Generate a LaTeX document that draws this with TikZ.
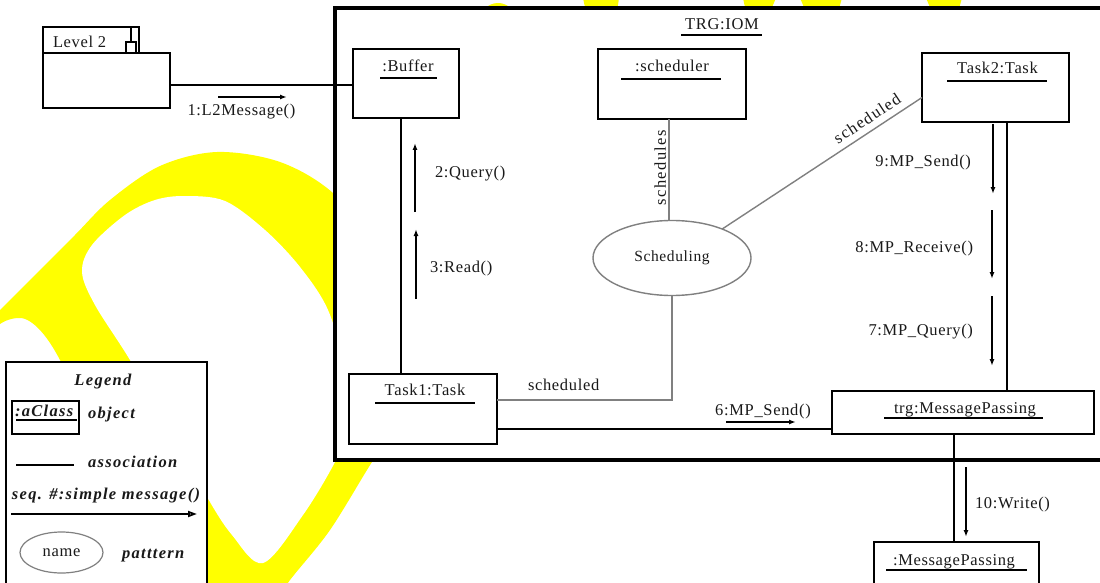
\documentclass[tikz,border=0pt]{standalone}
\usepackage{fontspec}
\setmainfont{Liberation Serif}[LetterSpace=4]
\newfontfamily\widefont{Liberation Serif}[LetterSpace=8]
\newfontfamily\legfont{Liberation Serif}[LetterSpace=8]
\usetikzlibrary{arrows.meta,shapes.geometric,calc}
\definecolor{wmyellow}{RGB}{255,255,0}
\definecolor{linkgray}{RGB}{128,128,128}
\definecolor{inkc}{RGB}{25,25,25}
\tikzset{
 box/.style={draw=black, fill=white, line width=2.3pt, inner sep=0pt, outer sep=0pt, anchor=north west},
 lbl/.style={font=\fontsize{16.5}{19}\selectfont, text=inkc, inner sep=0pt, outer sep=0pt},
 widelbl/.style={font=\widefont\fontsize{16.5}{19}\selectfont, text=inkc, inner sep=0pt, outer sep=0pt},
 legl/.style={font=\legfont\bfseries\itshape\fontsize{16.5}{19}\selectfont, text=inkc, inner sep=0pt, outer sep=0pt, anchor=base west},
 assoc/.style={draw=black, line width=2pt},
 grayln/.style={draw=linkgray, line width=1.4pt},
 msg/.style={draw=black, line width=1.8pt, -{Latex[length=7pt,width=5pt]}},
 uline/.style={draw=black, line width=1.8pt},
}
\begin{document}
\begin{tikzpicture}[x=1pt,y=-1pt]
\useasboundingbox (0,0) rectangle (1100,583);
\clip (0,0) rectangle (1100,583);
\fill[white] (0,0) rectangle (1100,583);
% watermark
\fill[wmyellow] (0,310) -- plot[smooth, tension=0.55] coordinates {
 (0,310) (35,275) (75,235) (110,200) (160,166) (217,152) (280,162) (333,193)
 (380,250) (405,340) (395,430) (372,462) (330,530) (290,580) (265,615) (205,615)
 (186,570) (138,490) (90,410) (60,360)}
 .. controls (46,333) and (30,316) .. (17,318) .. controls (8,319) and (3,322) .. (0,324)
 -- (-5,324) -- (-5,310) -- cycle;
\fill[white] plot[smooth cycle, tension=0.55] coordinates {
 (185,196) (225,201) (265,230) (300,267) (328,310) (345,370) (347,430) (335,462)
 (303,515) (263,563) (232,535) (207,497) (170,430) (130,360) (95,305) (82,272)
 (92,245) (125,215) (155,200)};
\fill[wmyellow] (498,21) circle (18);
\fill[wmyellow] (583,-2) -- (619,-2) -- (617,12) -- (586,12) -- cycle;
\fill[wmyellow] (743,-2) -- (776,-2) -- (770,12) -- (746,12) -- cycle;
\fill[wmyellow] (800,-2) -- (842,-2) -- (838,12) -- (806,12) -- cycle;
\fill[wmyellow] (926,-2) -- (962,-2) -- (958,12) -- (932,12) -- cycle;

% frames
\node[box, line width=3.2pt, minimum width=780pt, minimum height=452pt] (iom) at (335,8) {};
\node[lbl, anchor=base] (iomtxt) at (722,30) {TRG:IOM};
\draw[uline] (681,35) -- (762,35);
\node[box, minimum width=201pt, minimum height=240pt] (legend) at (6,362) {};

% Level 2 package
\node[box, minimum width=96pt, minimum height=26pt] (l2tab) at (43,27) {};
\node[box, minimum width=127pt, minimum height=55pt] (l2body) at (43,53) {};
\draw[line width=2pt] (131,27) -- (131,42);
\draw[line width=2pt] (126,53) rectangle (136,42);
\node[lbl, anchor=base west] (l2txt) at (53,48) {Level 2};

% objects
\node[box, minimum width=106pt, minimum height=69pt] (buffer) at (353,49) {};
\node[lbl, anchor=base] (buftxt) at (408,72) {:Buffer};
\draw[uline] (380,78) -- (437,78);

\node[box, minimum width=148pt, minimum height=70pt] (sched) at (598,49) {};
\node[lbl, anchor=base] (schedtxt) at (672,72) {:scheduler};
\draw[uline] (621,79) -- (721,79);

\node[box, minimum width=147pt, minimum height=69pt] (task2) at (922,53) {};
\node[lbl, anchor=base] (task2txt) at (997.5,74) {Task2:Task};
\draw[uline] (947,81) -- (1047,81);

\node[box, minimum width=148pt, minimum height=70pt] (task1) at (349,374) {};
\node[lbl, anchor=base] (task1txt) at (425,395) {Task1:Task};
\draw[uline] (375,403) -- (475,403);

\node[box, minimum width=262pt, minimum height=43pt] (trgmp) at (832,391) {};
\node[lbl, anchor=base] (trgmptxt) at (965,413) {trg:MessagePassing};
\draw[uline] (884,418) -- (1043,418);

\node[box, minimum width=165pt, minimum height=60pt] (ms) at (874,542) {};
\node[lbl, anchor=base] (mstxt) at (954,565) {:MessagePassing};
\draw[uline] (886,570) -- (1027,570);

\node[ellipse, draw=linkgray, line width=1.4pt, fill=white, minimum width=158pt, minimum height=75pt, lbl, font=\fontsize{15.5}{18}\selectfont] (pat) at (672,258) {Scheduling};

% associations
\draw[assoc] ($(l2body.east)+(0,4.5)$) -- ($(buffer.west)+(0,1.5)$);
\draw[assoc] ($(buffer.south)+(-5,0)$) -- ($(task1.north)+(-22,0)$);
\draw[assoc] ($(task1.east)+(0,20)$) -- ($(trgmp.west)+(0,16.5)$);
\draw[assoc] ($(task2.south)+(11.5,0)$) -- ($(trgmp.north)+(44,0)$);
\draw[assoc] ($(trgmp.south)+(-9,0)$) -- ($(ms.north)+(-2.5,0)$);

\draw[grayln] ($(pat.north)+(-3,0)$) -- node[pos=0.52, sloped, above=3pt, widelbl] (schlbl) {schedules} ($(sched.south)+(-3,0)$);
\draw[grayln] (pat.30) -- node[pos=0.76, sloped, above=7pt, widelbl] (sch2lbl) {scheduled} ($(task2.west)+(0,10)$);
\draw[grayln] (pat.south) |- ($(task1.east)+(0,-9)$);
\node[lbl, anchor=base west] (sch1lbl) at (528,390) {scheduled};

% messages
\coordinate (m1a) at (218,97);  \coordinate (m1b) at (287,97);
\coordinate (m2a) at (415,212); \coordinate (m2b) at (415,143);
\coordinate (m3a) at (416,299); \coordinate (m3b) at (416,229);
\coordinate (m9a) at (993,124); \coordinate (m9b) at (993,194);
\coordinate (m8a) at (992,210); \coordinate (m8b) at (992,279);
\coordinate (m7a) at (992,296); \coordinate (m7b) at (992,366);
\coordinate (m6a) at (726,422); \coordinate (m6b) at (796,422);
\coordinate (m10a) at (966,467); \coordinate (m10b) at (966,537);
\draw[msg] (m1a) -- (m1b);
\draw[msg] (m2a) -- (m2b);
\draw[msg] (m3a) -- (m3b);
\draw[msg] (m9a) -- (m9b);
\draw[msg] (m8a) -- (m8b);
\draw[msg] (m7a) -- (m7b);
\draw[msg] (m6a) -- (m6b);
\draw[msg] (m10a) -- (m10b);
\node[lbl, anchor=base] (t1) at (241.5,116) {1:L2Message()};
\node[lbl, anchor=base west] (t2) at (435,177) {2:Query()};
\node[lbl, anchor=base west] (t3) at (430,272) {3:Read()};
\node[lbl, anchor=base east] (t9) at (971,167) {9:MP\_Send()};
\node[lbl, anchor=base east] (t8) at (973,252) {8:MP\_Receive()};
\node[lbl, anchor=base east] (t7) at (973,335) {7:MP\_Query()};
\node[lbl, anchor=base] (t6) at (763,415) {6:MP\_Send()};
\node[lbl, anchor=base west] (t10) at (975,508) {10:Write()};

% legend
\node[legl, anchor=base] (legtitle) at (103,385) {Legend};
\node[box, minimum width=67pt, minimum height=33pt] (legobj) at (12,401) {};
\node[legl] (legobjtxt) at (15,416) {:aClass};
\draw[uline] (16,420) -- (77,420);
\node[legl] (legobjlbl) at (88,418) {object};
\coordinate (la) at (16,465); \coordinate (lb) at (74,465);
\draw[assoc] (la) -- (lb);
\node[legl] (legassoc) at (88,467) {association};
\node[legl] (legmsg) at (12,499) {seq. \#:simple message()};
\coordinate (lma) at (11,514); \coordinate (lmb) at (197,514);
\draw[draw=black, line width=1.8pt, -{Triangle[open,length=9pt,width=6pt]}] (lma) -- (lmb);
\node[ellipse, draw=linkgray, line width=1.2pt, minimum width=83pt, minimum height=41pt, lbl] (legpat) at (61.5,552.5) {name};
\node[legl] (legpatlbl) at (122,558) {patttern};
\end{tikzpicture}
\end{document}
